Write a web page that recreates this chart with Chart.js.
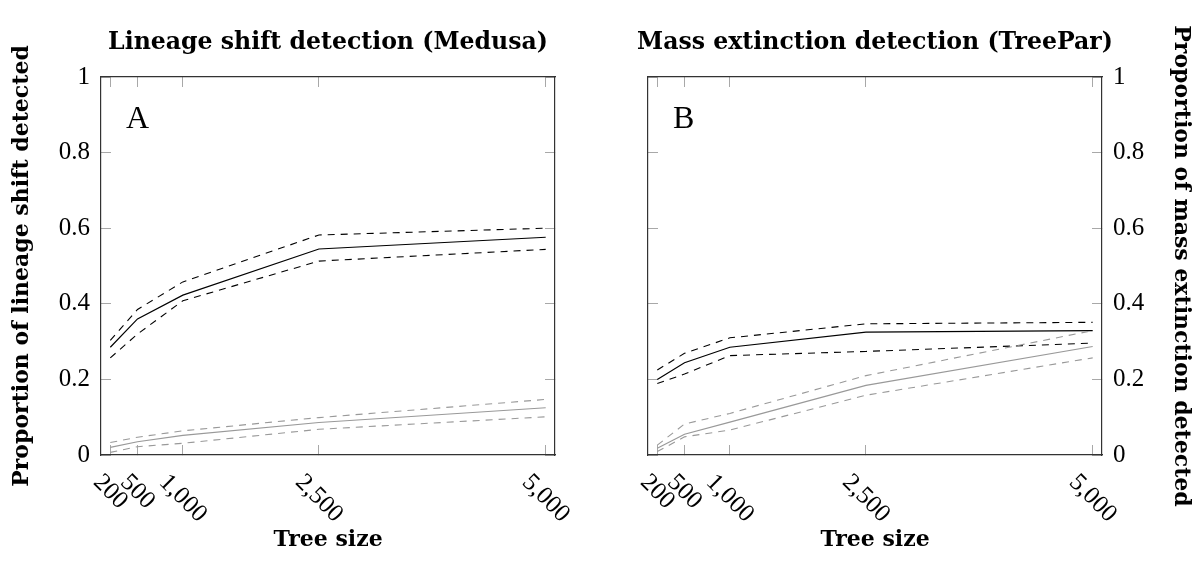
<!DOCTYPE html>
<html>
<head>
<meta charset="utf-8">
<script src="https://cdn.jsdelivr.net/npm/chart.js@4.4.1/dist/chart.umd.min.js"></script>
<style>
body { margin: 0; background: #fff; }
#wrap { position: relative; width: 1203px; height: 577px; }
canvas { position: absolute; top: 0; }
#chartA { left: 0; }
#chartB { left: 547px; }
</style>
</head>
<body>
<div id="wrap">
	<canvas id="chartA" width="656" height="577"></canvas>
	<canvas id="chartB" width="656" height="577"></canvas>
</div>
<script>
const treeSizes = [200, 500, 1000, 2500, 5000];
const yTicks = [0, 0.2, 0.4, 0.6, 0.8, 1];

// A - Medusa, lineage shift
const medusaShift = [0.285, 0.360, 0.423, 0.545, 0.576];
const medusaShiftHigh = [0.303, 0.385, 0.458, 0.582, 0.600];
const medusaShiftLow = [0.257, 0.320, 0.408, 0.513, 0.544];
const medusaNull = [0.020, 0.035, 0.052, 0.086, 0.125];
const medusaNullHigh = [0.033, 0.047, 0.064, 0.099, 0.147];
const medusaNullLow = [0.007, 0.022, 0.031, 0.068, 0.101];

// B - TreePar, mass extinction
const treeparShift = [0.200, 0.244, 0.285, 0.325, 0.329];
const treeparShiftHigh = [0.225, 0.269, 0.310, 0.347, 0.351];
const treeparShiftLow = [0.189, 0.214, 0.263, 0.274, 0.296];
const treeparNull = [0.018, 0.055, 0.087, 0.184, 0.287];
const treeparNullHigh = [0.026, 0.082, 0.110, 0.210, 0.329];
const treeparNullLow = [0.009, 0.048, 0.066, 0.158, 0.257];

const serif = "'Liberation Serif', 'Times New Roman', serif";
const boldSerif = "'DejaVu Serif', serif";

function series(values, color, dashed) {
	return {
		data: treeSizes.map((x, i) => ({ x: x, y: values[i] })),
		borderColor: color,
		borderWidth: dashed ? 1.1 : 1.2,
		borderDash: dashed ? [7, 6] : [],
		pointRadius: 0,
		tension: 0,
		fill: false
	};
}

function axis(position, size, showLabels, titleText) {
	const horizontal = position === 'top' || position === 'bottom';
	return {
		type: 'linear',
		position: position,
		min: horizontal ? 97.5 : 0,
		max: horizontal ? 5102.5 : 1,
		afterBuildTicks: scale => {
			scale.ticks = (horizontal ? treeSizes : yTicks).map(v => ({ value: v }));
		},
		afterFit: scale => {
			if (horizontal) scale.height = size; else scale.width = size;
		},
		border: { display: true, color: '#333', width: 1.2 },
		grid: { drawOnChartArea: false, drawTicks: true, tickLength: -10, tickColor: '#a8a8a8', lineWidth: 1 },
		ticks: {
			display: showLabels && !horizontal,
			padding: 21,
			color: '#000',
			font: { family: serif, size: 25 },
			callback: v => String(+v.toFixed(1))
		},
		title: {
			display: !!titleText,
			text: titleText || '',
			color: '#000',
			font: { family: boldSerif, size: 22, weight: 'bold', lineHeight: 1 },
			padding: horizontal ? { top: 0, bottom: 26 } : { top: 11, bottom: 0 }
		}
	};
}

// title, panel letter and the rotated x tick labels
function panelDecor(title, letter) {
	return {
		id: 'panelDecor',
		afterDraw(chart) {
			const ctx = chart.ctx;
			const area = chart.chartArea;
			const xScale = chart.scales.x;
			ctx.save();
			ctx.fillStyle = '#000';
			ctx.textAlign = 'center';
			ctx.textBaseline = 'alphabetic';
			ctx.font = 'bold 23.6px ' + boldSerif;
			ctx.fillText(title, (area.left + area.right) / 2, 49);

			ctx.textAlign = 'left';
			ctx.font = '32px ' + serif;
			ctx.fillText(letter, area.left + 25, area.top + 51);

			ctx.font = '25px ' + serif;
			ctx.textAlign = 'center';
			ctx.textBaseline = 'middle';
			treeSizes.forEach(v => {
				const label = v.toLocaleString('en-US');
				const w = ctx.measureText(label).width;
				const px = xScale.getPixelForValue(v);
				const py = area.bottom + 18 + (w + 16) * 0.3536;
				ctx.save();
				ctx.translate(px, py);
				ctx.rotate(Math.PI / 4);
				ctx.fillText(label, 0, 0);
				ctx.restore();
			});
			ctx.restore();
		}
	};
}

function makePanel(id, title, letter, labelsRight, yTitle, shift, shiftHigh, shiftLow, nul, nulHigh, nulLow) {
	const config = {
		type: 'line',
		data: {
			datasets: [
				series(nul, '#999', false),
				series(nulHigh, '#999', true),
				series(nulLow, '#999', true),
				series(shift, '#000', false),
				series(shiftHigh, '#000', true),
				series(shiftLow, '#000', true)
			]
		},
		options: {
			responsive: false,
			animation: false,
			layout: { padding: 0 },
			plugins: { legend: { display: false }, tooltip: { enabled: false } },
			scales: {
				x: axis('bottom', 122, false, 'Tree size'),
				x2: axis('top', 77, false, null),
				y: axis(labelsRight ? 'right' : 'left', 101, true, yTitle),
				y2: axis(labelsRight ? 'left' : 'right', 101, false, null)
			}
		},
		plugins: [panelDecor(title, letter)]
	};
	return new Chart(document.getElementById(id), config);
}

makePanel('chartA', 'Lineage shift detection (Medusa)', 'A', false, 'Proportion of lineage shift detected',
	medusaShift, medusaShiftHigh, medusaShiftLow, medusaNull, medusaNullHigh, medusaNullLow);
makePanel('chartB', 'Mass extinction detection (TreePar)', 'B', true, 'Proportion of mass extinction detected',
	treeparShift, treeparShiftHigh, treeparShiftLow, treeparNull, treeparNullHigh, treeparNullLow);
</script>
</body>
</html>
